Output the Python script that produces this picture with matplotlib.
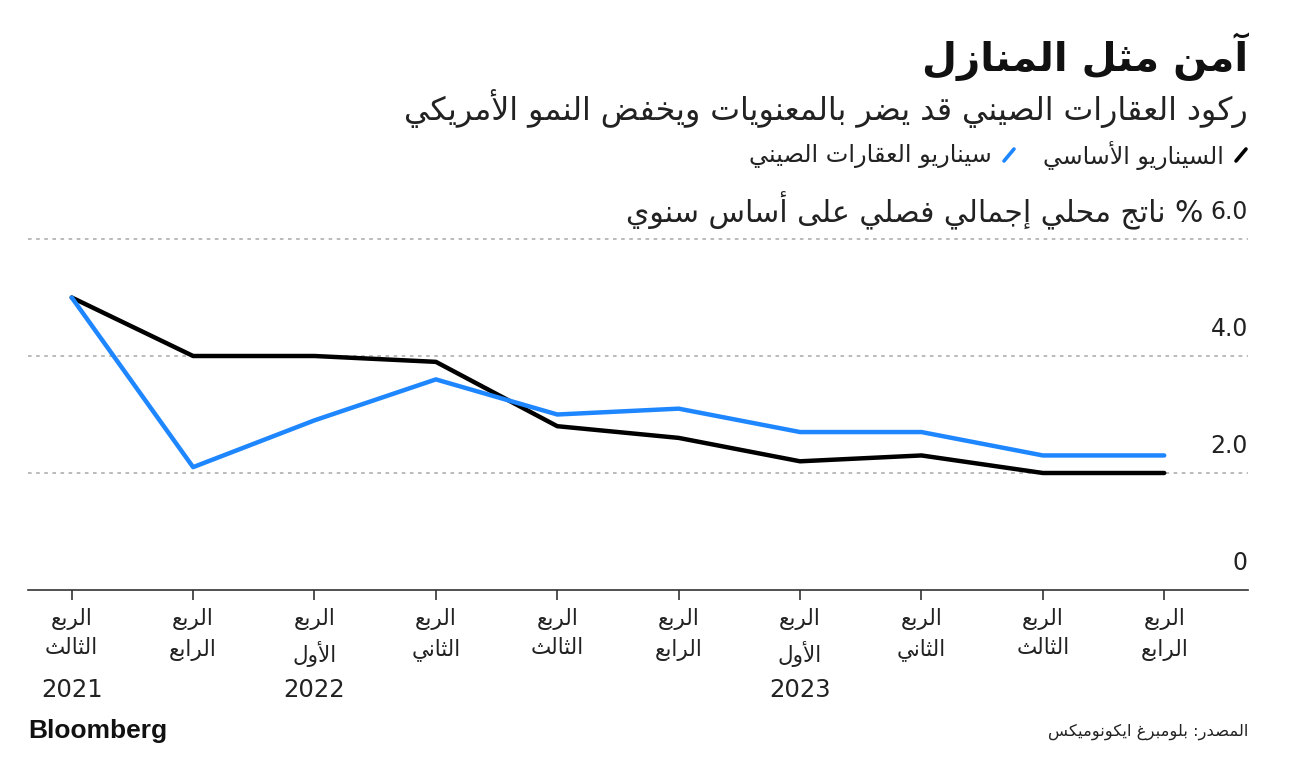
import numpy as np
import matplotlib
matplotlib.use('Agg')
import matplotlib.pyplot as plt
from matplotlib.lines import Line2D

# chart data
quarter_word = 'الربع'
quarters = ['الثالث', 'الرابع', 'الأول', 'الثاني', 'الثالث',
            'الرابع', 'الأول', 'الثاني', 'الثالث', 'الرابع']
year_pos = [0, 2, 6]
year_labels = ['2021', '2022', '2023']
baseline = [5.0, 4.0, 4.0, 3.9, 2.8, 2.6, 2.2, 2.3, 2.0, 2.0]
property_case = [5.0, 2.1, 2.9, 3.6, 3.0, 3.1, 2.7, 2.7, 2.3, 2.3]
yticks = [0, 2, 4, 6]
ytick_labels = ['0', '2.0', '4.0', '6.0']

title = 'آمن مثل المنازل'
subtitle = 'ركود العقارات الصيني قد يضر بالمعنويات ويخفض النمو الأمريكي'
legend_base = 'السيناريو الأساسي'
legend_prop = 'سيناريو العقارات الصيني'
axis_title = 'ناتج محلي إجمالي فصلي على أساس سنوي'
source = 'المصدر: بلومبرغ ايكونوميكس'

# matplotlib has no arabic shaping, so pick presentation forms by hand
FORMS = {
    'ء': (0xFE80, 1), 'آ': (0xFE81, 2), 'أ': (0xFE83, 2), 'ؤ': (0xFE85, 2), 'إ': (0xFE87, 2),
    'ئ': (0xFE89, 4), 'ا': (0xFE8D, 2), 'ب': (0xFE8F, 4), 'ة': (0xFE93, 2), 'ت': (0xFE95, 4),
    'ث': (0xFE99, 4), 'ج': (0xFE9D, 4), 'ح': (0xFEA1, 4), 'خ': (0xFEA5, 4), 'د': (0xFEA9, 2),
    'ذ': (0xFEAB, 2), 'ر': (0xFEAD, 2), 'ز': (0xFEAF, 2), 'س': (0xFEB1, 4), 'ش': (0xFEB5, 4),
    'ص': (0xFEB9, 4), 'ض': (0xFEBD, 4), 'ط': (0xFEC1, 4), 'ظ': (0xFEC5, 4), 'ع': (0xFEC9, 4),
    'غ': (0xFECD, 4), 'ف': (0xFED1, 4), 'ق': (0xFED5, 4), 'ك': (0xFED9, 4), 'ل': (0xFEDD, 4),
    'م': (0xFEE1, 4), 'ن': (0xFEE5, 4), 'ه': (0xFEE9, 4), 'و': (0xFEED, 2), 'ى': (0xFEEF, 2),
    'ي': (0xFEF1, 4),
}
LAM_ALEF = {'آ': 0xFEF5, 'أ': 0xFEF7, 'إ': 0xFEF9, 'ا': 0xFEFB}


def shape(text):
    units = []
    i = 0
    while i < len(text):
        c = text[i]
        if c == 'ل' and i + 1 < len(text) and text[i + 1] in LAM_ALEF:
            units.append((LAM_ALEF[text[i + 1]], 2, True))
            i += 2
            continue
        if c in FORMS:
            units.append((FORMS[c][0], FORMS[c][1], True))
        else:
            units.append((c, 0, False))
        i += 1
    out = []
    for k, (b, n, ar) in enumerate(units):
        if not ar:
            out.append(b)
            continue
        prev = units[k - 1] if k > 0 else None
        nxt = units[k + 1] if k + 1 < len(units) else None
        jp = prev is not None and prev[2] and prev[1] == 4
        jn = n == 4 and nxt is not None and nxt[2] and nxt[1] > 1
        if n == 1:
            idx = 0
        elif jp and jn:
            idx = 3
        elif jp:
            idx = 1
        elif jn:
            idx = 2
        else:
            idx = 0
        out.append(chr(b + idx))
    return ''.join(out)[::-1]


plt.rcParams['font.family'] = ['DejaVu Sans']
W, H = 1297, 757
fig = plt.figure(figsize=(W / 100, H / 100), dpi=100)

BLUE = '#1e86ff'
GRID = '#b5b5b5'
TXT = '#222222'

ax = fig.add_axes([28 / W, 167 / H, 1220 / W, 6.2 * 58.5 / H])
x = np.arange(len(quarters))
ax.plot(x, baseline, color='black', lw=3.2, solid_capstyle='round', zorder=3)
ax.plot(x, property_case, color=BLUE, lw=3.2, solid_capstyle='round', zorder=3)

ax.set_xlim(-0.36, 9.69)
ax.set_ylim(0, 6.2)
for s in ['top', 'right', 'left']:
    ax.spines[s].set_visible(False)
ax.spines['bottom'].set_color('#333333')
ax.spines['bottom'].set_linewidth(1.2)
for v in yticks[1:]:
    ax.axhline(v, color=GRID, lw=1.3, ls=(0, (2, 2.5)), zorder=1)
ax.set_yticks([])
for v, lab in zip(yticks, ytick_labels):
    ax.annotate(lab, xy=(1.0, v), xycoords=('axes fraction', 'data'),
                xytext=(0, 11), textcoords='offset points',
                ha='right', va='bottom', fontsize=17, color=TXT)

ax.set_xticks(x)
ax.set_xticklabels([shape(quarter_word) + '\n' + shape(q) for q in quarters],
                   fontsize=15.5, color=TXT, linespacing=1.5)
ax.tick_params(axis='x', length=7, width=1.2, color='#333333', pad=6)
for p, y in zip(year_pos, year_labels):
    ax.annotate(y, xy=(p, 0), xycoords=('data', 'axes fraction'),
                xytext=(0, -72), textcoords='offset points',
                ha='center', va='center', fontsize=17.5, color=TXT)

# axis title next to the top tick label
fig.text(1203 / W, 1 - 211 / H, shape(axis_title) + ' %', ha='right', va='center',
         fontsize=21.5, color=TXT)

# titles
fig.text(1248 / W, 1 - 57 / H, shape(title), ha='right', va='center',
         fontsize=29, fontweight='bold', color='#111111')
fig.text(1248 / W, 1 - 108 / H, shape(subtitle), ha='right', va='center',
         fontsize=22.8, color=TXT)

# legend
fig.add_artist(Line2D([1236 / W, 1246 / W], [1 - 161 / H, 1 - 149 / H],
                      color='black', lw=2.6, solid_capstyle='round'))
fig.text(1224 / W, 1 - 156 / H, shape(legend_base), ha='right', va='center',
         fontsize=17, color=TXT)
fig.add_artist(Line2D([1004 / W, 1014 / W], [1 - 161 / H, 1 - 149 / H],
                      color=BLUE, lw=2.6, solid_capstyle='round'))
fig.text(992 / W, 1 - 156 / H, shape(legend_prop), ha='right', va='center',
         fontsize=17.3, color=TXT)

# footer
fig.text(28 / W, 1 - 731 / H, 'Bloomberg', ha='left', va='center',
         fontsize=19, fontweight='bold', family='Liberation Sans', color='#111111')
fig.text(1248 / W, 1 - 732 / H, shape(source), ha='right', va='center',
         fontsize=11.8, color=TXT)

fig.savefig('out.png', dpi=100)
